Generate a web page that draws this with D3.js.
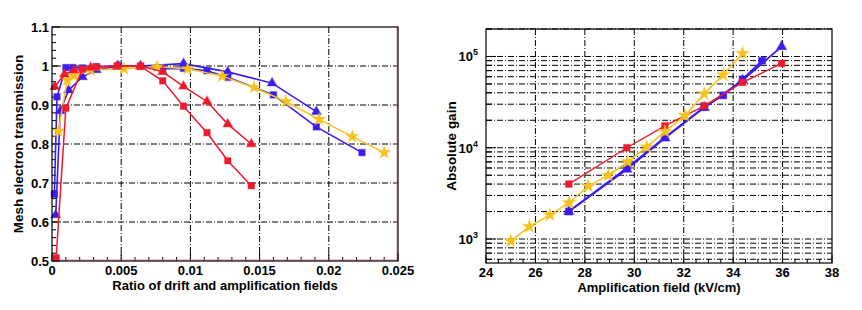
<!DOCTYPE html>
<html>
<head>
<meta charset="utf-8">
<script src="https://cdn.jsdelivr.net/npm/d3@7"></script>
<style>
  body { margin: 0; background: #fff; }
  svg { display: block; }
  text { font-family: "Liberation Sans", Arial, sans-serif; font-weight: bold; fill: #000; }
</style>
</head>
<body>
<svg width="862" height="310"></svg>
<script>
// left panel: transmission vs field ratio, [ratio, transmission]
let redSquaresT = [[0.0003,0.508],[0.001,0.892],[0.0022,0.992],[0.0032,0.998],[0.0047,1.0],[0.0064,0.999],[0.008,0.962],[0.0095,0.897],[0.0112,0.829],[0.0127,0.757],[0.0144,0.693]];
let redTrianglesT = [[0.0002,0.947],[0.0009,0.979],[0.0016,0.989],[0.0028,0.996],[0.0047,1.0],[0.0064,1.0],[0.008,0.985],[0.0095,0.948],[0.0112,0.909],[0.0127,0.851],[0.0144,0.800]];
let blueSquaresT = [[0.00017,0.671],[0.00036,0.921],[0.001,0.996],[0.0015,0.996],[0.0022,0.995],[0.0032,0.998],[0.0048,1.0],[0.0064,1.0],[0.008,0.993],[0.0095,0.994],[0.0112,0.988],[0.0127,0.971],[0.016,0.926],[0.0191,0.844],[0.0224,0.778]];
let blueTrianglesT = [[0.00027,0.618],[0.0006,0.885],[0.0012,0.938],[0.0022,0.972],[0.0032,0.99],[0.0048,1.0],[0.0064,1.0],[0.0095,1.006],[0.0127,0.985],[0.0159,0.956],[0.0191,0.883]];
let yellowStarsT = [[0.00046,0.833],[0.0011,0.964],[0.0016,0.975],[0.0028,0.99],[0.0052,0.993],[0.0076,0.998],[0.0098,0.993],[0.0123,0.974],[0.0146,0.945],[0.0169,0.909],[0.0193,0.863],[0.0217,0.819],[0.024,0.778]];

// right panel: gain vs amplification field, [kV/cm, gain]
let redSquaresG = [[27.35,4000],[29.7,10000],[31.24,17400],[32.83,28800],[34.38,52000],[35.96,84000]];
let blueSquaresG = [[27.35,2000],[29.7,6000],[31.24,13000],[32.83,28000],[33.6,37500],[34.38,56000],[35.17,90000]];
let blueTrianglesG = [[27.35,2000],[29.7,5800],[31.24,12800],[32.83,27500],[34.38,55000],[35.96,128000]];
let yellowStarsG = [[25.0,950],[25.75,1370],[26.59,1840],[27.36,2500],[28.14,3800],[28.95,5000],[29.73,7000],[30.5,10200],[31.24,15000],[32.05,22500],[32.83,39000],[33.6,63000],[34.38,108000]];

// tick values
let leftXTicks = [0, 0.005, 0.01, 0.015, 0.02, 0.025];
let leftYTicks = [0.5, 0.6, 0.7, 0.8, 0.9, 1, 1.1];
let rightXTicks = [24, 26, 28, 30, 32, 34, 36, 38];
let rightYDecades = [3, 4, 5];

let red = "#ee1a2c", blue = "#3c1cf2", yellow = "#f6c21a";
let dash = "6,2,1,2";

let svg = d3.select("svg");

// shared drawing of a series: line + markers
var drawSeries = function(g, x, y, data, color, shape, size, width) {
  g.append("path")
    .datum(data)
    .attr("fill", "none")
    .attr("stroke", color)
    .attr("stroke-width", width)
    .attr("d", d3.line().x(d => x(d[0])).y(d => y(d[1])));
  let sym = d3.symbol().type(shape).size(size);
  g.selectAll(null)
    .data(data)
    .enter().append("path")
    .attr("d", sym)
    .attr("fill", color)
    .attr("stroke", color)
    .attr("stroke-opacity", 0.35)
    .attr("stroke-width", 1.2)
    .attr("transform", d => "translate(" + x(d[0]) + "," + y(d[1]) + ")");
};

/*
 * left panel
 */
let L = { left: 52, right: 398, top: 27, bottom: 261 };
let xL = d3.scaleLinear().domain([0, 0.025]).range([L.left, L.right]);
let yL = d3.scaleLinear().domain([0.5, 1.1]).range([L.bottom, L.top]);
let gl = svg.append("g");

// grid
gl.selectAll(null).data(leftXTicks.slice(1, -1)).enter().append("line")
  .attr("x1", d => xL(d)).attr("x2", d => xL(d))
  .attr("y1", L.top).attr("y2", L.bottom)
  .attr("stroke", "#000").attr("stroke-dasharray", dash);
gl.selectAll(null).data(leftYTicks.slice(1, -1)).enter().append("line")
  .attr("x1", L.left).attr("x2", L.right)
  .attr("y1", d => yL(d)).attr("y2", d => yL(d))
  .attr("stroke", "#000").attr("stroke-dasharray", dash);

// minor ticks (inward)
let lxMinor = d3.range(0, 0.02501, 0.001);
gl.selectAll(null).data(lxMinor).enter().append("line")
  .attr("x1", d => xL(d)).attr("x2", d => xL(d))
  .attr("y1", L.bottom).attr("y2", (d, i) => L.bottom - (i % 5 == 0 ? 8 : 4))
  .attr("stroke", "#000");
let lyMinor = d3.range(0.5, 1.1001, 0.02);
gl.selectAll(null).data(lyMinor).enter().append("line")
  .attr("x1", L.left).attr("x2", (d, i) => L.left + (i % 5 == 0 ? 8 : 4))
  .attr("y1", d => yL(d)).attr("y2", d => yL(d))
  .attr("stroke", "#000");

// the faint red frame inside right and bottom edges
gl.append("polyline")
  .attr("points", [[L.right - 1, L.top], [L.right - 1, L.bottom - 1], [L.left, L.bottom - 1]].join(" "))
  .attr("fill", "none").attr("stroke", "#e58f95").attr("stroke-width", 1);

// series
let pl = gl.append("g");
drawSeries(pl, xL, yL, blueSquaresT, blue, d3.symbolSquare, 42, 1.6);
drawSeries(pl, xL, yL, blueTrianglesT, blue, d3.symbolTriangle, 40, 1.6);
drawSeries(pl, xL, yL, yellowStarsT, yellow, d3.symbolStar, 50, 1.5);
drawSeries(pl, xL, yL, redTrianglesT, red, d3.symbolTriangle, 40, 1.5);
drawSeries(pl, xL, yL, redSquaresT, red, d3.symbolSquare, 42, 1.5);

// frame
gl.append("rect")
  .attr("x", L.left).attr("y", L.top)
  .attr("width", L.right - L.left).attr("height", L.bottom - L.top)
  .attr("fill", "none").attr("stroke", "#000").attr("stroke-width", 1.2);

// tick labels
gl.selectAll(null).data(leftXTicks).enter().append("text")
  .attr("x", d => xL(d)).attr("y", L.bottom + 14)
  .attr("text-anchor", "middle").attr("font-size", 13)
  .text(d => d3.format("~g")(d));
gl.selectAll(null).data(leftYTicks).enter().append("text")
  .attr("x", L.left - 3).attr("y", d => yL(d) + 5)
  .attr("text-anchor", "end").attr("font-size", 13)
  .text(d => d3.format("~g")(d));

// axis titles
gl.append("text")
  .attr("x", (L.left + L.right) / 2).attr("y", L.bottom + 29)
  .attr("text-anchor", "middle").attr("font-size", 13)
  .text("Ratio of drift and amplification fields");
gl.append("text")
  .attr("transform", "translate(23," + (L.top + L.bottom) / 2 + ") rotate(-90)")
  .attr("text-anchor", "middle").attr("font-size", 13.5)
  .text("Mesh electron transmission");

/*
 * right panel
 */
let R = { left: 486, right: 832, top: 29, bottom: 263 };
let xR = d3.scaleLinear().domain([24, 38]).range([R.left, R.right]);
let yR = d3.scaleLog().domain([546, 200000]).range([R.bottom, R.top]);
let gr = svg.append("g");

// log grid: every 1..9 x 10^n inside the domain
let logLines = [];
[2, 3, 4, 5].forEach(function(e) {
  for (let k = 1; k < 10; k++) {
    let v = k * Math.pow(10, e);
    if (v >= 546 && v <= 200000) logLines.push(v);
  }
});
gr.selectAll(null).data(logLines).enter().append("line")
  .attr("x1", R.left).attr("x2", R.right)
  .attr("y1", d => yR(d)).attr("y2", d => yR(d))
  .attr("stroke", "#000").attr("stroke-dasharray", dash);
gr.selectAll(null).data(rightXTicks.slice(1, -1)).enter().append("line")
  .attr("x1", d => xR(d)).attr("x2", d => xR(d))
  .attr("y1", R.top).attr("y2", R.bottom)
  .attr("stroke", "#000").attr("stroke-dasharray", dash);

// ticks
let rxMinor = d3.range(24, 38.01, 0.5);
gr.selectAll(null).data(rxMinor).enter().append("line")
  .attr("x1", d => xR(d)).attr("x2", d => xR(d))
  .attr("y1", R.bottom).attr("y2", (d, i) => R.bottom - (i % 4 == 0 ? 8 : 4))
  .attr("stroke", "#000");
gr.selectAll(null).data(logLines).enter().append("line")
  .attr("x1", R.left).attr("x2", d => R.left + (Math.log10(d) % 1 == 0 ? 10 : 6))
  .attr("y1", d => yR(d)).attr("y2", d => yR(d))
  .attr("stroke", "#000");

// series
let pr = gr.append("g");
drawSeries(pr, xR, yR, blueSquaresG, blue, d3.symbolSquare, 49, 1.8);
drawSeries(pr, xR, yR, blueTrianglesG, blue, d3.symbolTriangle, 45, 1.8);
drawSeries(pr, xR, yR, redSquaresG, red, d3.symbolSquare, 45, 1.4);
drawSeries(pr, xR, yR, yellowStarsG, yellow, d3.symbolStar, 55, 1.5);

gr.append("rect")
  .attr("x", R.left).attr("y", R.top)
  .attr("width", R.right - R.left).attr("height", R.bottom - R.top)
  .attr("fill", "none").attr("stroke", "#000").attr("stroke-width", 1.2);

gr.selectAll(null).data(rightXTicks).enter().append("text")
  .attr("x", d => xR(d)).attr("y", R.bottom + 14)
  .attr("text-anchor", "middle").attr("font-size", 13)
  .text(d => d);
let yLab = gr.selectAll(null).data(rightYDecades).enter().append("text")
  .attr("x", R.left - 8).attr("y", d => yR(Math.pow(10, d)) + 5)
  .attr("text-anchor", "end").attr("font-size", 13);
yLab.append("tspan").text("10");
yLab.append("tspan").attr("dy", -6).attr("font-size", 9).text(d => d);

gr.append("text")
  .attr("x", (R.left + R.right) / 2).attr("y", R.bottom + 29)
  .attr("text-anchor", "middle").attr("font-size", 13)
  .text("Amplification field (kV/cm)");
gr.append("text")
  .attr("transform", "translate(456," + (R.top + R.bottom) / 2 + ") rotate(-90)")
  .attr("text-anchor", "middle").attr("font-size", 13.5)
  .text("Absolute gain");
</script>
</body>
</html>
